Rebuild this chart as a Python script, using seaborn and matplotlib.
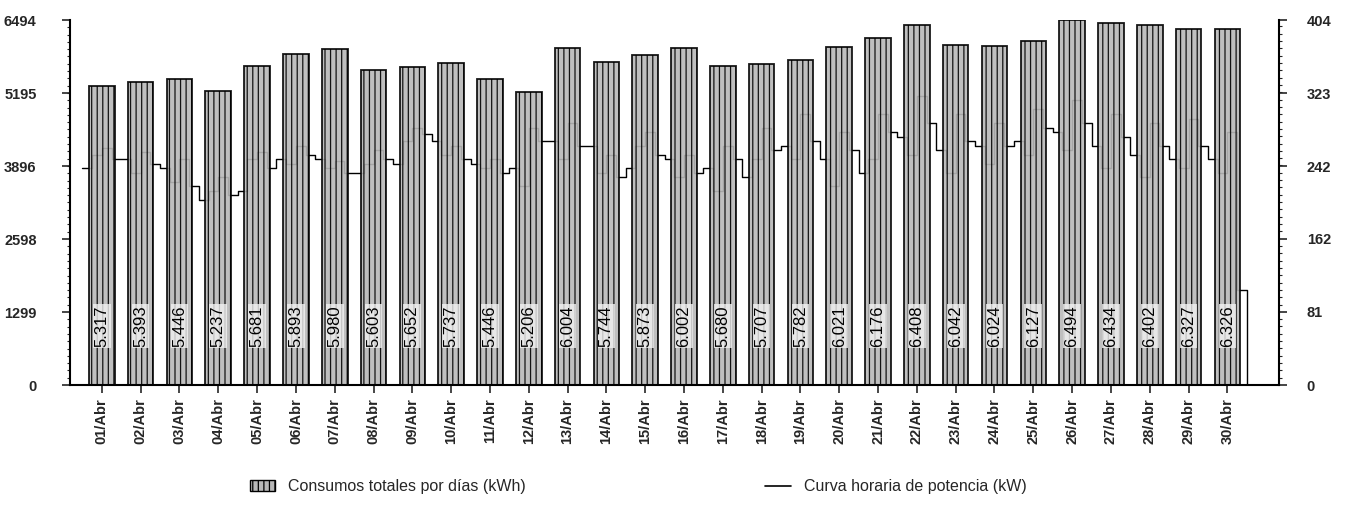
import numpy as np
import pandas as pd
import matplotlib
matplotlib.use("Agg")
import matplotlib.pyplot as plt
import seaborn as sns
from matplotlib.patches import Patch
from matplotlib.lines import Line2D
from matplotlib.ticker import AutoMinorLocator

dias = ["%02d/Abr" % d for d in range(1, 31)]
consumo = [5317, 5393, 5446, 5237, 5681, 5893, 5980, 5603, 5652, 5737,
           5446, 5206, 6004, 5744, 5873, 6002, 5680, 5707, 5782, 6021,
           6176, 6408, 6042, 6024, 6127, 6494, 6434, 6402, 6327, 6326]

# curva de potencia (kW), 4 lecturas aproximadas por dia (00h, 06h, 12h, 18h)
potencia = [240, 255, 262, 250,  250, 235, 258, 245,  240, 225, 250, 220,
            205, 215, 230, 210,  215, 250, 258, 240,  250, 245, 265, 255,
            250, 240, 248, 235,  235, 245, 260, 250,  245, 270, 285, 278,
            270, 255, 265, 250,  245, 240, 250, 235,  240, 220, 285, 270,
            270, 250, 290, 265,  265, 235, 255, 230,  240, 265, 280, 255,
            250, 230, 255, 235,  240, 215, 265, 250,  230, 250, 285, 260,
            265, 250, 300, 270,  250, 220, 280, 260,  235, 250, 300, 280,
            275, 255, 320, 290,  260, 235, 300, 270,  265, 245, 290, 265,
            270, 255, 305, 285,  280, 260, 315, 290,  265, 240, 300, 275,
            255, 230, 290, 265,  250, 240, 295, 265,  250, 235, 280, 105,
            0, 0]
lecturas_dia = 4

ticks_izq = [0, 1299, 2598, 3896, 5195, 6494]
ticks_der = [0, 81, 162, 242, 323, 404]

sns.set_style("white")
plt.rcParams['font.family'] = ['Liberation Sans', 'DejaVu Sans']
plt.rcParams['hatch.color'] = '#555555'
plt.rcParams['hatch.linewidth'] = 0.9

df = pd.DataFrame({'dia': dias, 'consumo': consumo})
dp = pd.DataFrame({'x': np.arange(len(potencia)) / lecturas_dia - 0.5,
                   'kw': potencia})

fig = plt.figure(figsize=(13.49, 5.27), dpi=100)
ax = fig.add_axes([0.0519, 0.2694, 0.8962, 0.6926])
ax2 = ax.twinx()

# curva horaria (detras de las barras)
sns.lineplot(data=dp, x='x', y='kw', ax=ax2, color='black', linewidth=1.0,
             drawstyle='steps-post')
ax2.set_ylim(0, 404)
ax2.set_yticks(ticks_der)
ax2.set_ylabel('')

sns.barplot(data=df, x='dia', y='consumo', ax=ax, color='#b8b8b8',
            width=0.66, edgecolor='black', linewidth=1.3, hatch='|||',
            saturation=1)
for b in ax.patches:
    b.set_alpha(0.9)
ax.set_zorder(ax2.get_zorder() + 1)
ax.patch.set_visible(False)

for i, v in enumerate(consumo):
    txt = f"{v:,}".replace(",", ".")
    ax.text(i, 1050, txt, rotation=90, ha='center', va='center',
            fontsize=12, color='black',
            bbox=dict(facecolor='#f2f2f2', edgecolor='none', pad=1, alpha=0.8))

ax.set_xlim(-0.82, 30.33)
ax.set_ylim(0, 6494)
ax.set_yticks(ticks_izq)
ax.set_xlabel('')
ax.set_ylabel('')
ax.yaxis.set_minor_locator(AutoMinorLocator(10))
ax2.yaxis.set_minor_locator(AutoMinorLocator(10))
ax.tick_params(axis='x', rotation=90, labelsize=10.5, length=6, width=1.2,
               direction='out', bottom=True)
ax.tick_params(axis='y', labelsize=10.5, length=6, width=1.2, pad=18,
               direction='out', left=True)
ax.tick_params(axis='y', which='minor', length=2, width=0.8, left=True)
ax2.tick_params(axis='y', labelsize=10.5, length=6, width=1.2, pad=14,
                direction='out', right=True)
ax2.tick_params(axis='y', which='minor', length=2, width=0.8, right=True)
for lab in ax.get_yticklabels() + ax2.get_yticklabels() + ax.get_xticklabels():
    lab.set_fontweight('bold')

for a in (ax, ax2):
    a.spines['top'].set_visible(False)
    for s in ('left', 'right', 'bottom'):
        a.spines[s].set_linewidth(1.5)
        a.spines[s].set_color('black')
ax.spines['right'].set_visible(False)
ax2.spines['left'].set_visible(False)
ax2.spines['bottom'].set_visible(False)

handles = [Patch(facecolor='#b8b8b8', edgecolor='black', hatch='|||'),
           Line2D([0], [0], color='black', linewidth=1.2)]
labels = ['Consumos totales por días (kWh)', 'Curva horaria de potencia (kW)']
fig.legend(handles, labels, loc='center', bbox_to_anchor=(0.473, 0.076),
           ncol=2, frameon=False, columnspacing=15, handlelength=1.6,
           fontsize=11.5)

fig.savefig('out.png', dpi=100)
